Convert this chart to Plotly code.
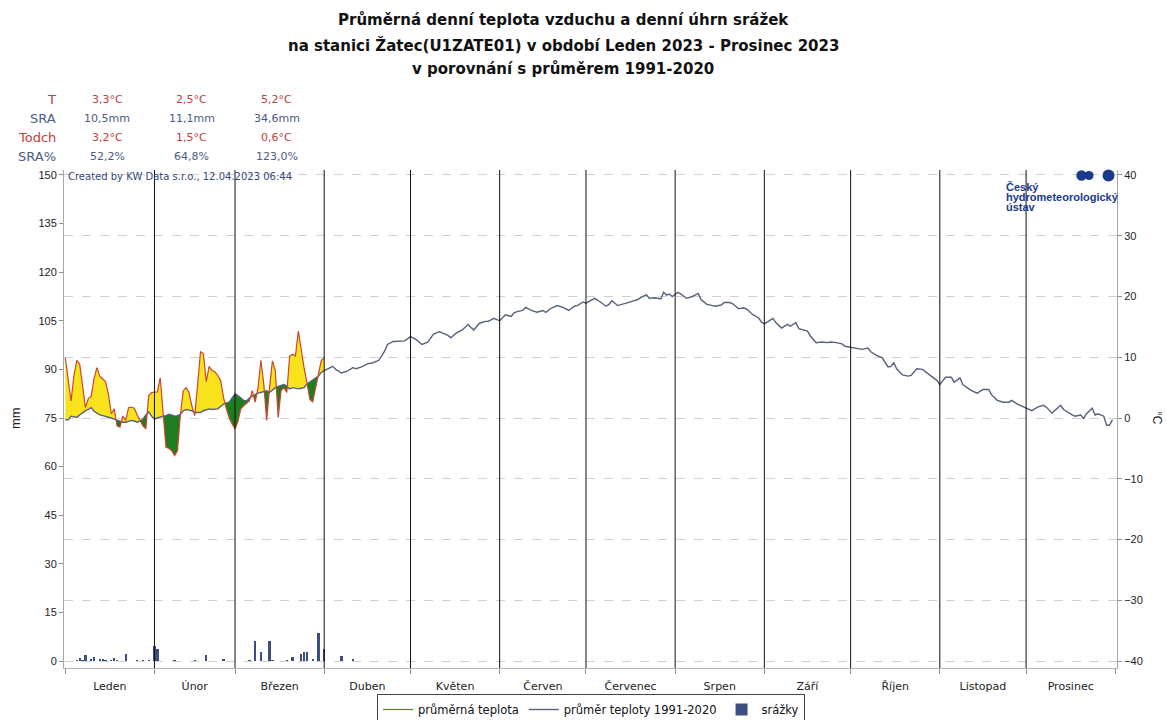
import numpy as np
import plotly.graph_objects as go

# ---------------- data ----------------
month_names = ["Leden", "Únor", "Březen", "Duben", "Květen", "Červen",
               "Červenec", "Srpen", "Září", "Říjen", "Listopad", "Prosinec"]
month_starts = [0, 31, 59, 90, 120, 151, 181, 212, 243, 273, 304, 334, 365]

# daily mean temperature 2023 (day 0 = 1 Jan)
temp_days = list(range(91))
temp_2023 = [9.9, 6.5, 2.8, 7.0, 9.5, 8.9, 5.0, 1.7, 3.2, 3.6,
             6.5, 8.3, 6.9, 6.4, 6.0, 3.9, 0.7, 1.5, -1.3, -1.5,
             0.3, -0.4, 1.7, 1.8, 1.6, 0.5, -0.5, -1.3, -1.8, 3.7,
             4.2, 4.2, 4.3, 6.6, 0.5, -4.8, -5.0, -5.4, -6.2, -5.4,
             0.5, 4.5, 5.0, 4.2, 2.0, 0.4, 5.5, 10.9, 10.6, 6.0,
             8.5, 7.8, 7.6, 7.0, 6.2, 3.4, 1.5, 0.0, -1.0, -1.8,
             -0.6, 1.5, 2.0, 2.4, 2.8, 4.5, 2.6, 5.0, 9.5, 5.6,
             -0.4, 5.0, 9.4, 7.8, 0.1, 4.5, 5.0, 4.2, 10.2, 10.5,
             10.2, 14.3, 11.0, 8.3, 5.8, 3.1, 2.6, 5.0, 7.2, 9.5,
             9.9]

# climatology 1991-2020
clim_days = list(range(91)) + [
    93, 94, 96, 98, 100, 101, 103, 105, 107, 109, 111, 112, 114, 116, 118,
    120, 122, 124, 126, 128, 130, 131, 133, 134, 136, 138, 140, 141, 142, 144,
    146, 147, 149, 151, 153, 155, 156, 157, 159, 160, 162, 164, 166, 167, 169,
    171, 173, 175, 177, 178, 180, 181, 183, 184, 186, 188, 189, 190, 192, 194,
    195, 197, 199, 200, 202, 203, 205, 207, 208, 209, 210, 211, 213, 214, 216,
    218, 220, 221, 223, 225, 226, 228, 229, 231, 232, 234, 236, 237, 239, 241,
    242, 243, 244, 246, 247, 249, 251, 252, 254, 255, 258, 259, 261, 263, 265,
    266, 268, 270, 271, 273, 275, 277, 279, 280, 282, 284, 286, 287, 288, 289,
    291, 293, 294, 296, 298, 299, 301, 303, 304, 306, 308, 309, 311, 312, 314,
    315, 317, 319, 321, 322, 324, 326, 328, 329, 331, 333, 335, 336, 338, 340,
    341, 343, 346, 347, 350, 351, 353, 354, 355, 357, 358, 359, 361, 362, 363,
    364]
clim_values = [
    -0.3, -0.3, 0.3, 0.2, 0.1, 0.5, 0.9, 1.2, 1.4, 1.7,
    1.1, 0.8, 0.5, 0.4, 0.3, 0.1, 0.0, -0.2, -0.4, -0.6,
    -0.7, -0.7, -0.6, -0.4, -0.5, -0.7, -0.5, -0.2, 0.5, 1.0,
    0.3, -0.2, 0.0, 0.2, 0.3, 0.4, 0.6, 0.5, 0.3, 0.4,
    0.6, 1.2, 1.4, 1.3, 1.2, 0.9, 0.9, 0.9, 1.2, 1.4,
    1.5, 1.4, 1.4, 1.5, 1.9, 2.3, 2.5, 2.6, 3.3, 4.0,
    3.7, 3.3, 2.9, 2.8, 3.3, 3.6, 3.9, 4.1, 4.2, 4.4,
    4.5, 4.2, 4.6, 5.0, 5.2, 5.3, 5.5, 5.2, 4.8, 5.0,
    4.9, 4.8, 4.9, 5.0, 5.6, 5.9, 6.2, 6.5, 6.9, 7.5,
    7.8,
    8.5, 8.0, 7.4, 7.7, 8.3, 8.1, 8.4, 8.9, 9.1, 9.5, 11.0, 12.1, 12.6, 12.7, 12.7,
    13.4, 12.9, 12.1, 12.5, 13.8, 14.2, 14.0, 13.6, 13.2, 14.0, 14.5, 15.4, 14.9, 14.5, 15.6,
    15.9, 15.9, 16.4, 16.0, 17.0, 16.7, 17.3, 17.5, 17.7, 18.2, 17.7, 17.4, 17.7, 17.4, 18.1,
    18.5, 18.2, 17.7, 18.4, 18.5, 19.1, 18.9, 19.5, 19.7, 19.1, 18.4, 18.7, 19.3, 18.5, 18.7,
    18.9, 19.2, 19.5, 19.8, 20.3, 19.7, 19.8, 19.6, 20.7, 20.2, 20.4, 20.0, 20.7, 20.4, 19.7,
    20.0, 20.5, 19.5, 18.7, 18.5, 18.4, 18.6, 19.0, 19.0, 18.8, 18.0, 18.1, 17.9, 17.0, 16.5,
    15.8, 15.5, 15.8, 16.4, 15.7, 14.8, 15.4, 15.1, 15.7, 14.7, 14.3, 13.5, 12.4, 12.5, 12.4,
    12.5, 12.4, 12.2, 11.8, 11.6, 11.5, 11.3, 11.5, 10.9, 10.3, 9.9, 8.4, 8.5, 9.1, 8.1,
    7.1, 6.9, 7.0, 8.1, 8.0, 7.6, 6.9, 6.2, 5.5, 6.7, 6.7, 5.9, 6.6, 5.5, 4.9,
    4.5, 4.1, 4.7, 4.7, 3.8, 2.9, 2.6, 2.6, 2.9, 2.3, 1.9, 1.5, 1.2, 1.8, 2.1,
    1.8, 0.8, 2.1, 1.4, 0.5, 0.3, 0.5, -0.1, 0.7, 1.6, 0.5, 0.7, 0.3, -1.2, -1.2,
    -0.3]

# daily precipitation (mm)
precip_days = [4, 5, 6, 7, 9, 10, 12, 13, 14, 16, 17, 18, 21, 25, 27, 29,
               31, 32, 38, 45, 49, 55,
               64, 66, 68, 71, 72, 77, 79, 82, 83, 84, 86, 88,
               90, 96, 100]
precip_mm = [0.3, 1.0, 0.3, 1.9, 0.5, 1.2, 0.4, 0.5, 0.2, 0.3, 0.9, 0.2, 2.3, 0.2, 0.2, 0.2,
             4.5, 3.8, 0.3, 0.3, 1.8, 0.4,
             0.3, 6.2, 2.8, 6.3, 0.3, 0.3, 1.2, 2.3, 2.8, 2.8, 0.5, 8.5,
             3.8, 1.4, 0.5]

# monthly statistics table
stat_labels = ["T", "SRA", "Todch", "SRA%"]
stat_T = ["3,3°C", "2,5°C", "5,2°C"]
stat_SRA = ["10,5mm", "11,1mm", "34,6mm"]
stat_Todch = ["3,2°C", "1,5°C", "0,6°C"]
stat_SRApct = ["52,2%", "64,8%", "123,0%"]

# ---------------- styling ----------------
FONT = "Liberation Sans, Arial, sans-serif"
WFONT = "DejaVu Sans, Verdana, sans-serif"
YELLOW = "#f8e31c"
GREEN = "#1e7d1e"
RED = "#cc472d"
CLIM = "#56617a"
BAR = "#3d4f80"
RED_TXT = "#c23d3d"
BLUE_TXT = "#4a5b86"

# all positions below are in screenshot pixels (page body margin is removed)
L, R, TOP, BOT = 64, 1117, 170, 668
W, H = 1167, 720
PW, PH = R - L, BOT - TOP


def px(x):
    return (x - L) / PW


def py(y):
    return (BOT - y) / PH


# ---------------- fill geometry (split at crossings) ----------------
T = np.array(temp_2023, dtype=float)
C = np.array([clim_values[clim_days.index(d)] for d in temp_days], dtype=float)
xs, cs, ts = [], [], []
for i in range(len(temp_days)):
    xs.append(temp_days[i]); cs.append(C[i]); ts.append(T[i])
    if i < len(temp_days) - 1:
        d0 = T[i] - C[i]
        d1 = T[i + 1] - C[i + 1]
        if d0 * d1 < 0:
            f = d0 / (d0 - d1)
            xc = temp_days[i] + f * (temp_days[i + 1] - temp_days[i])
            cc = C[i] + f * (C[i + 1] - C[i])
            xs.append(xc); cs.append(cc); ts.append(cc)
cs = np.array(cs); ts = np.array(ts)
upper = np.maximum(ts, cs)
lower = np.minimum(ts, cs)

fig = go.Figure()
common = dict(yaxis="y2", mode="lines", line=dict(width=0), showlegend=False, hoverinfo="skip")
fig.add_trace(go.Scatter(x=xs, y=cs, **common))
fig.add_trace(go.Scatter(x=xs, y=upper, fill="tonexty", fillcolor=YELLOW, **common))
fig.add_trace(go.Scatter(x=xs, y=cs, **common))
fig.add_trace(go.Scatter(x=xs, y=lower, fill="tonexty", fillcolor=GREEN, **common))

fig.add_trace(go.Bar(x=precip_days, y=precip_mm, marker=dict(color=BAR, line=dict(width=0)),
                     width=0.8, name="srážky", legendrank=3))
fig.add_trace(go.Scatter(x=clim_days, y=clim_values, yaxis="y2", mode="lines",
                         line=dict(color=CLIM, width=1.4), name="průměr teploty 1991-2020",
                         legendrank=2))
fig.add_trace(go.Scatter(x=temp_days, y=temp_2023, yaxis="y2", mode="lines",
                         line=dict(color=RED, width=1.2), name="průměrná teplota",
                         legendrank=1))

month_mids = [(month_starts[i] + month_starts[i + 1]) / 2 for i in range(12)]

shapes = []
for ms in month_starts[1:-1]:
    shapes.append(dict(type="line", xref="x", yref="paper", x0=ms, x1=ms, y0=0, y1=1,
                       line=dict(color="#111111", width=1), layer="above"))
# logo circles
LOGO = "#1b3a8c"
for cx, cy, r in [(1081.5, 175.5, 5.2), (1089, 175.5, 4.6), (1108.5, 175.5, 6)]:
    shapes.append(dict(type="circle", xref="paper", yref="paper",
                       x0=px(cx - r), x1=px(cx + r), y0=py(cy + r), y1=py(cy - r),
                       fillcolor=LOGO, line=dict(width=0), layer="above"))

ann = []
titles = ["Průměrná denní teplota vzduchu a denní úhrn srážek",
          "na stanici Žatec(U1ZATE01) v období Leden 2023 - Prosinec 2023",
          "v porovnání s průměrem 1991-2020"]
for t, yy in zip(titles, [20, 45, 69]):
    ann.append(dict(text="<b>" + t + "</b>", xref="paper", yref="paper", x=px(563), y=py(yy),
                    xanchor="center", yanchor="middle", showarrow=False,
                    font=dict(family=WFONT, size=15, color="#111111")))

row_y = [99, 118, 137, 157]
row_col = [RED_TXT, BLUE_TXT, RED_TXT, BLUE_TXT]
row_vals = [stat_T, stat_SRA, stat_Todch, stat_SRApct]
for lab, yy, col, vals in zip(stat_labels, row_y, row_col, row_vals):
    ann.append(dict(text=lab, xref="paper", yref="paper", x=px(58), y=py(yy),
                    xanchor="right", yanchor="middle", showarrow=False,
                    font=dict(family=WFONT, size=13, color=col)))
    for i, v in enumerate(vals):
        ann.append(dict(text=v, xref="x", yref="paper", x=month_mids[i] - 1, y=py(yy),
                        xanchor="center", yanchor="middle", showarrow=False,
                        font=dict(family=WFONT, size=11, color=col)))

ann.append(dict(text="Created by KW Data s.r.o., 12.04.2023 06:44", xref="paper", yref="paper",
                x=px(66), y=py(177), xanchor="left", yanchor="middle", showarrow=False,
                font=dict(family=WFONT, size=10, color="#34477a")))
for t, yy in zip(["Český", "hydrometeorologický", "ústav"], [187, 197, 207]):
    ann.append(dict(text="<b>" + t + "</b>", xref="paper", yref="paper",
                    x=px(1004), y=py(yy), xanchor="left", yanchor="middle", showarrow=False,
                    font=dict(family=FONT, size=11, color=LOGO)))
ann.append(dict(text="mm", xref="paper", yref="paper", x=px(15), y=py(418), textangle=-90,
                xanchor="center", yanchor="middle", showarrow=False,
                font=dict(family=FONT, size=13, color="#222222")))
ann.append(dict(text="°C", xref="paper", yref="paper", x=px(1157), y=py(418), textangle=90,
                xanchor="center", yanchor="middle", showarrow=False,
                font=dict(family=FONT, size=12, color="#222222")))

fig.update_layout(
    width=W, height=H,
    margin=dict(l=L, r=W - R, t=TOP, b=H - BOT, pad=0, autoexpand=False),
    paper_bgcolor="white", plot_bgcolor="white",
    font=dict(family=FONT, size=11, color="#222222"),
    bargap=0,
    xaxis=dict(range=[-0.45, 365.6], tickvals=month_mids, ticktext=month_names, ticks="",
               showgrid=False, zeroline=False, showline=True, linecolor="#b5b5b5", linewidth=1,
               ticklabelstandoff=8, tickfont=dict(family=WFONT, size=11, color="#222222"),
               automargin=False,
               minor=dict(tickvals=month_starts, ticks="outside", ticklen=5,
                          tickcolor="#909090", showgrid=False)),
    yaxis=dict(range=[-2.16, 151.54], tickvals=list(range(0, 151, 15)), ticks="outside",
               ticklen=4, tickcolor="#909090", showgrid=False, zeroline=False, showline=True,
               linecolor="#a8a8a8", linewidth=1, automargin=False,
               tickfont=dict(size=11, color="#222222")),
    yaxis2=dict(range=[-41.15, 40.82], tickvals=list(range(-40, 41, 10)), overlaying="y",
                side="right", ticks="outside", ticklen=4, tickcolor="#909090",
                showgrid=True, gridcolor="#d0d0d0", griddash="dash", gridwidth=1,
                zeroline=False, showline=True, linecolor="#a8a8a8", linewidth=1,
                automargin=False, tickfont=dict(size=11, color="#222222")),
    legend=dict(orientation="h", x=px(591), xanchor="center", y=py(694), yanchor="top",
                bordercolor="#444444", borderwidth=1, bgcolor="white",
                font=dict(family=WFONT, size=11.5, color="#111111"),
                itemwidth=30, tracegroupgap=0, traceorder="normal"),
    shapes=shapes,
    annotations=ann,
    showlegend=True,
)

fig.write_html(
    "out.html",
    config={"displayModeBar": False},
    post_script="document.body.style.margin='0px';document.body.style.overflow='hidden';",
)
